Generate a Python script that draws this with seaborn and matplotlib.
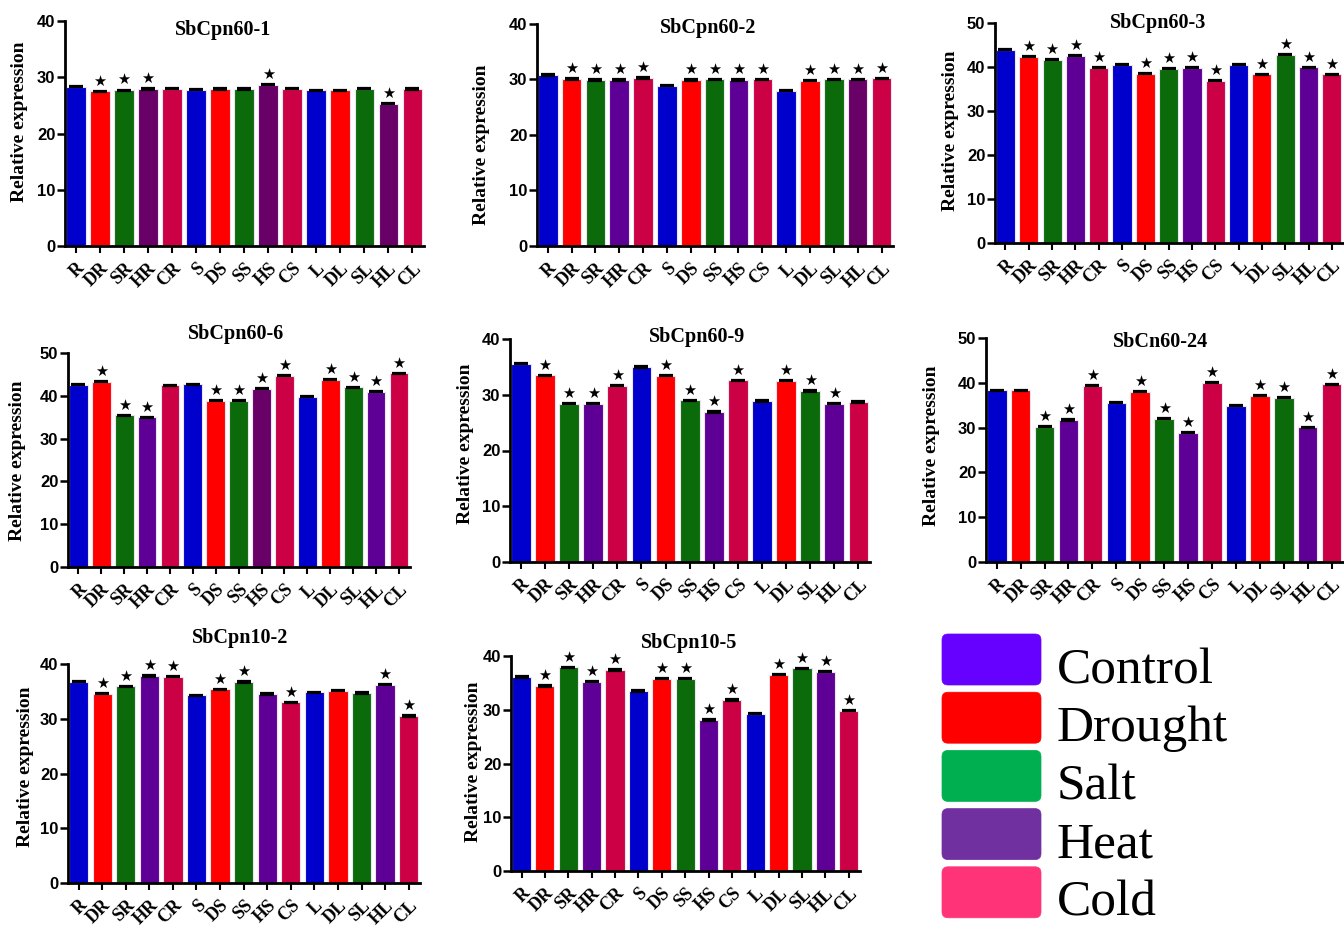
import matplotlib
matplotlib.use('Agg')
import matplotlib.pyplot as plt
import seaborn as sns
import pandas as pd
from matplotlib.patches import FancyBboxPatch

sns.set_theme(style='white')
plt.rcParams['font.family'] = ['Liberation Serif', 'DejaVu Sans']

# ---------------- data ----------------
categories = ['R', 'DR', 'SR', 'HR', 'CR', 'S', 'DS', 'SS', 'HS', 'CS', 'L', 'DL', 'SL', 'HL', 'CL']
treatment_of = ['Control', 'Drought', 'Salt', 'Heat', 'Cold'] * 3

titles = ['SbCpn60-1', 'SbCpn60-2', 'SbCpn60-3', 'SbCpn60-6',
          'SbCpn60-9', 'SbCn60-24', 'SbCpn10-2', 'SbCpn10-5']
ymax = [40, 40, 50, 50, 40, 50, 40, 40]

vals_cpn60_1 = [28.3, 27.5, 27.7, 27.9, 28.0, 27.8, 27.9, 27.9, 28.7, 28.0, 27.7, 27.7, 28.0, 25.3, 27.9]
vals_cpn60_2 = [30.8, 30.1, 29.9, 29.9, 30.3, 28.9, 29.9, 30.0, 29.9, 30.0, 28.0, 29.8, 30.0, 30.0, 30.2]
vals_cpn60_3 = [43.9, 42.3, 41.7, 42.6, 39.8, 40.5, 38.5, 39.6, 39.8, 36.9, 40.5, 38.3, 42.8, 39.9, 38.3]
vals_cpn60_6 = [42.6, 43.3, 35.5, 35.0, 42.5, 42.7, 38.8, 38.8, 41.6, 44.7, 39.8, 43.8, 42.0, 41.0, 45.3]
vals_cpn60_9 = [35.6, 33.5, 28.4, 28.4, 31.6, 35.0, 33.4, 29.0, 26.9, 32.6, 28.9, 32.5, 30.7, 28.4, 28.7]
vals_cn60_24 = [38.3, 38.3, 30.2, 31.7, 39.3, 35.6, 38.0, 32.0, 28.9, 40.0, 34.9, 37.1, 36.7, 30.1, 39.7]
vals_cpn10_2 = [36.8, 34.6, 35.9, 37.8, 37.7, 34.3, 35.4, 36.7, 34.5, 33.0, 34.8, 35.1, 34.7, 36.2, 30.5]
vals_cpn10_5 = [36.1, 34.4, 37.9, 35.2, 37.4, 33.5, 35.8, 35.8, 28.1, 31.8, 29.3, 36.5, 37.7, 37.1, 29.8]
values = [vals_cpn60_1, vals_cpn60_2, vals_cpn60_3, vals_cpn60_6,
          vals_cpn60_9, vals_cn60_24, vals_cpn10_2, vals_cpn10_5]

stars_cpn60_1 = ['DR', 'SR', 'HR', 'HS', 'HL']
stars_cpn60_2 = ['DR', 'SR', 'HR', 'CR', 'DS', 'SS', 'HS', 'CS', 'DL', 'SL', 'HL', 'CL']
stars_cpn60_3 = ['DR', 'SR', 'HR', 'CR', 'DS', 'SS', 'HS', 'CS', 'DL', 'SL', 'HL', 'CL']
stars_cpn60_6 = ['DR', 'SR', 'HR', 'DS', 'SS', 'HS', 'CS', 'DL', 'SL', 'HL', 'CL']
stars_cpn60_9 = ['DR', 'SR', 'HR', 'CR', 'DS', 'SS', 'HS', 'CS', 'DL', 'SL', 'HL']
stars_cn60_24 = ['SR', 'HR', 'CR', 'DS', 'SS', 'HS', 'CS', 'DL', 'SL', 'HL', 'CL']
stars_cpn10_2 = ['DR', 'SR', 'HR', 'CR', 'DS', 'SS', 'CS', 'HL', 'CL']
stars_cpn10_5 = ['DR', 'SR', 'HR', 'CR', 'DS', 'SS', 'HS', 'CS', 'DL', 'SL', 'HL', 'CL']
stars = [stars_cpn60_1, stars_cpn60_2, stars_cpn60_3, stars_cpn60_6,
         stars_cpn60_9, stars_cn60_24, stars_cpn10_2, stars_cpn10_5]

error = 0.12

legend_labels = ['Control', 'Drought', 'Salt', 'Heat', 'Cold']

# ---------------- styles ----------------
bar_colors = {'Control': '#0000CC', 'Drought': '#FF0000', 'Salt': '#0B6B0B',
              'Heat': '#5E0096', 'Cold': '#CC0044'}
dark_heat = '#680068'
dark_heat_bars = {0: ['HR', 'HS', 'HL'], 1: ['HL'], 3: ['HS']}
legend_colors = ['#6600FF', '#FF0000', '#00B050', '#7030A0', '#FF3377']

W, H = 1344, 931
# axes rectangles in pixels: left, top, right, bottom
boxes = [(65, 21, 424, 246), (537, 24, 893, 246), (995, 23, 1343, 243),
         (68, 353, 410, 567), (510, 339, 870, 562), (986, 338, 1343, 562),
         (68, 664, 420, 883), (511, 656, 860, 871)]
title_pos = [(0.44, 0.96), (0.48, 0.98), (0.47, 1.00), (0.49, 1.09),
             (0.52, 1.01), (0.49, 0.98), (0.49, 1.12), (0.51, 1.06)]
ylabel_offset_px = [37, 47, 36, 42, 36, 46, 34, 29]
ylabel_y = [0.55, 0.455, 0.51, 0.495, 0.53, 0.52, 0.53, 0.51]

fig = plt.figure(figsize=(W / 100, H / 100), dpi=100)
fig.patch.set_facecolor('white')

for k in range(8):
    l, t, r, b = boxes[k]
    ax = fig.add_axes([l / W, 1 - b / H, (r - l) / W, (b - t) / H])
    ax.set_facecolor('white')
    cols = []
    for c, tr in zip(categories, treatment_of):
        if c in dark_heat_bars.get(k, []):
            cols.append(dark_heat)
        else:
            cols.append(bar_colors[tr])
    df = pd.DataFrame({'cat': categories, 'val': values[k]})
    sns.barplot(data=df, x='cat', y='val', hue='cat', palette=dict(zip(categories, cols)),
                order=categories, hue_order=categories, legend=False, width=0.82,
                saturation=1, edgecolor='#ece4f0', linewidth=0.8, ax=ax, errorbar=None)
    ax.errorbar(range(len(categories)), values[k], yerr=error, fmt='none',
                ecolor='black', elinewidth=0.8, capsize=5, capthick=1.6, zorder=3)
    for i, c in enumerate(categories):
        if c in stars[k]:
            ax.annotate('★', (i, values[k][i] + error), xytext=(0, 1.5),
                        textcoords='offset points', ha='center', va='bottom',
                        fontsize=10.5, family='DejaVu Sans', color='black')
    ax.set_xlim(-0.45, 14.48)
    ax.set_ylim(0, ymax[k])
    ax.set_yticks(range(0, ymax[k] + 1, 10))
    ax.set_yticklabels([str(v) for v in range(0, ymax[k] + 1, 10)],
                       family='Liberation Sans', fontweight='bold', fontsize=12)
    ax.set_xticks(range(len(categories)))
    ax.set_xticklabels(categories, rotation=45, ha='right', rotation_mode='anchor',
                       family='Liberation Serif', fontweight='bold', fontsize=13)
    ax.tick_params(axis='y', direction='out', length=6, width=1.8, pad=1, colors='black',
                   left=True)
    ax.tick_params(axis='x', direction='out', length=5, width=1.5, pad=5, colors='black',
                   bottom=True)
    for s in ['top', 'right']:
        ax.spines[s].set_visible(False)
    for s in ['left', 'bottom']:
        ax.spines[s].set_color('black')
        ax.spines[s].set_linewidth(2)
    ax.set_xlabel('')
    ax.set_ylabel('Relative expression', family='Liberation Serif', fontweight='bold',
                  fontsize=14, color='black')
    ax.yaxis.set_label_coords(-ylabel_offset_px[k] / (r - l), ylabel_y[k])
    ax.text(title_pos[k][0], title_pos[k][1], titles[k], transform=ax.transAxes,
            ha='center', va='center', family='Liberation Serif', fontweight='bold',
            fontsize=14.5, color='black')
    ax.grid(False)

# ---------------- legend ----------------
lax = fig.add_axes([0, 0, 1, 1], zorder=5)
lax.set_xlim(0, W)
lax.set_ylim(H, 0)
lax.axis('off')
for i, (lab, col) in enumerate(zip(legend_labels, legend_colors)):
    y0 = 634 + i * 58.2
    lax.add_patch(FancyBboxPatch((942 + 6, y0 + 6), 99 - 12, 51 - 12,
                                 boxstyle='round,pad=6', facecolor=col,
                                 edgecolor=col, linewidth=0.5))
    lax.text(1057, y0 + 49, lab, ha='left', va='baseline', family='Liberation Serif',
             fontsize=37, color='black')

fig.savefig('out.png', dpi=100, facecolor='white')
